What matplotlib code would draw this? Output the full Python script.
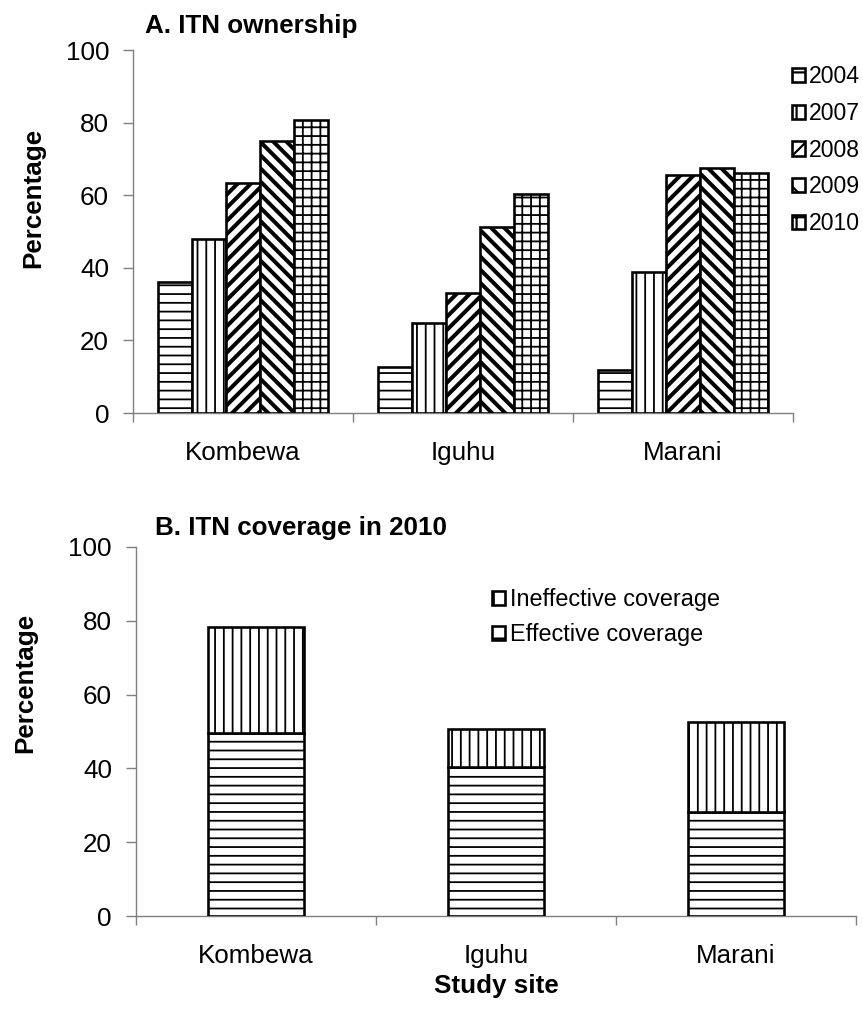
import matplotlib
matplotlib.use('Agg')
import matplotlib.pyplot as plt
from matplotlib.patches import Patch
import numpy as np

# ---------------- data ----------------
sites = ['Kombewa', 'Iguhu', 'Marani']
years = ['2004', '2007', '2008', '2009', '2010']
own_2004 = [36.0, 12.8, 11.8]
own_2007 = [48.0, 24.7, 38.9]
own_2008 = [63.4, 33.0, 65.6]
own_2009 = [74.8, 51.2, 67.4]
own_2010 = [80.6, 60.3, 66.2]
effective = [49.6, 40.4, 28.2]
ineffective = [28.8, 10.3, 24.3]
yticks = [0, 20, 40, 60, 80, 100]

DPI = 158
W, H = 863, 1013


def px(v):
    return v * 72.0 / DPI


plt.rcParams['font.family'] = ['Liberation Sans', 'DejaVu Sans']

fig = plt.figure(figsize=(W / DPI, H / DPI), dpi=DPI)
fig.patch.set_facecolor('white')

FS = px(26)
SPINE = '#808080'


def style_axes(ax):
    ax.set_xlim(0, 3)
    ax.set_ylim(0, 100)
    for s in ['top', 'right']:
        ax.spines[s].set_visible(False)
    for s in ['left', 'bottom']:
        ax.spines[s].set_color(SPINE)
        ax.spines[s].set_linewidth(px(1.4))
    ax.set_yticks(yticks)
    ax.set_yticklabels([str(t) for t in yticks], fontsize=FS)
    ax.tick_params(axis='y', direction='out', length=px(10), width=px(1.4),
                   color=SPINE, pad=px(14))
    ax.set_xticks([0.5, 1.5, 2.5])
    ax.set_xticklabels(sites, fontsize=FS)
    ax.set_xticks([0, 1, 2, 3], minor=True)
    ax.tick_params(axis='x', which='major', length=0, pad=px(28))
    ax.tick_params(axis='x', which='minor', direction='out', length=px(9),
                   width=px(1.4), color=SPINE)


def hatched_bar(ax, x, h, w, hatch, hlw, bottom=None, label=None):
    with plt.rc_context({'hatch.linewidth': hlw, 'hatch.color': 'black'}):
        bars = ax.bar(x, h, w, bottom=bottom, color='white', edgecolor='black',
                      linewidth=px(2.6), hatch=hatch, label=label, zorder=3)
    for b in bars:
        if hasattr(b, 'set_hatch_linewidth'):
            b.set_hatch_linewidth(hlw)
    return bars


# ---------------- panel A ----------------
axA = fig.add_axes([133 / W, (H - 413) / H, 660 / W, 363 / H])
style_axes(axA)
series = [own_2004, own_2007, own_2008, own_2009, own_2010]
hatches = ['---', '|||', '////', '\\\\\\\\', '+++']
hlws = [px(1.8), px(1.8), px(4.0), px(4.0), px(1.8)]
bw = 0.1545
centers = np.arange(len(sites)) + 0.5
handlesA = []
for i, (vals, ht, hl) in enumerate(zip(series, hatches, hlws)):
    hatched_bar(axA, centers + (i - 2) * bw, vals, bw, ht, hl)
    with plt.rc_context({'hatch.linewidth': hl}):
        p = Patch(facecolor='white', edgecolor='black', linewidth=px(2.6),
                  hatch=ht[:2], label=years[i])
    handlesA.append(p)

fig.text(145 / W, (H - 33) / H, 'A. ITN ownership', fontsize=FS,
         fontweight='bold', ha='left', va='baseline')
fig.text(33 / W, (H - 198) / H, 'Percentage', fontsize=FS, fontweight='bold',
         rotation=90, ha='center', va='center')

fig.legend(handles=handlesA, loc='upper left',
           bbox_to_anchor=(792 / W, (H - 65) / H), frameon=False,
           fontsize=px(23), borderpad=0, borderaxespad=0, handlelength=0.57,
           handleheight=0.57, handletextpad=0.17, labelspacing=0.6)

# ---------------- panel B ----------------
axB = fig.add_axes([136 / W, (H - 916) / H, 720 / W, 369 / H])
style_axes(axB)
hatched_bar(axB, centers, effective, 0.4, '---', px(1.8))
hatched_bar(axB, centers, ineffective, 0.4, '|||', px(1.8), bottom=effective)
with plt.rc_context({'hatch.linewidth': px(1.8)}):
    handlesB = [
        Patch(facecolor='white', edgecolor='black', linewidth=px(2.6),
              hatch='||', label='Ineffective coverage'),
        Patch(facecolor='white', edgecolor='black', linewidth=px(2.6),
              hatch='--', label='Effective coverage'),
    ]

fig.text(155 / W, (H - 535) / H, 'B. ITN coverage in 2010', fontsize=FS,
         fontweight='bold', ha='left', va='baseline')
fig.text(25 / W, (H - 683) / H, 'Percentage', fontsize=FS, fontweight='bold',
         rotation=90, ha='center', va='center')
fig.text(496 / W, (H - 986) / H, 'Study site', fontsize=FS, fontweight='bold',
         ha='center', va='center')

fig.legend(handles=handlesB, loc='upper left',
           bbox_to_anchor=(492 / W, (H - 588) / H), frameon=False,
           fontsize=px(23.5), borderpad=0, borderaxespad=0, handlelength=0.56,
           handleheight=0.56, handletextpad=0.22, labelspacing=0.52)

fig.savefig('out.png', dpi=DPI, facecolor='white')
